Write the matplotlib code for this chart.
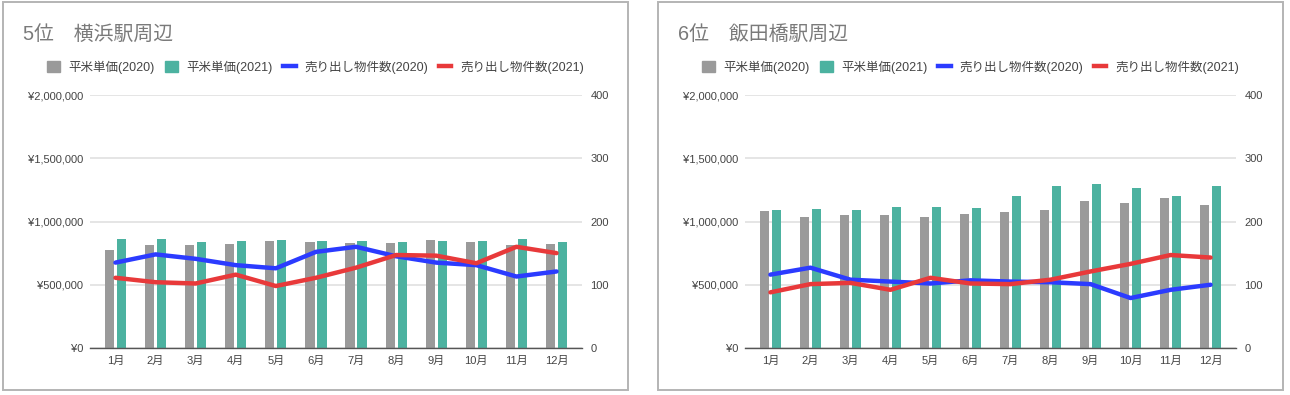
import matplotlib
matplotlib.use("Agg")
import matplotlib.pyplot as plt
from matplotlib.patches import Patch, Rectangle
from matplotlib.lines import Line2D
from matplotlib.ticker import FuncFormatter, FixedLocator
import numpy as np

plt.rcParams['font.family'] = ['Liberation Sans', 'Noto Sans CJK JP', 'DejaVu Sans']

months = ['1月', '2月', '3月', '4月', '5月', '6月', '7月', '8月', '9月', '10月', '11月', '12月']
series_names = ['平米単価(2020)', '平米単価(2021)', '売り出し物件数(2020)', '売り出し物件数(2021)']

title_yokohama = '5位　横浜駅周辺'
price2020_yokohama = [771000, 811000, 811000, 821000, 845000, 837000, 829000, 829000, 853000, 837000, 811000, 821000]
price2021_yokohama = [863000, 863000, 837000, 845000, 853000, 845000, 845000, 837000, 845000, 845000, 863000, 837000]
count2020_yokohama = [135, 148, 141, 131, 126, 152, 160, 145, 135, 131, 113, 121]
count2021_yokohama = [111, 104, 102, 116, 98, 111, 127, 147, 146, 134, 160, 150]

title_iidabashi = '6位　飯田橋駅周辺'
price2020_iidabashi = [1082000, 1039000, 1050000, 1050000, 1039000, 1063000, 1074000, 1089000, 1163000, 1150000, 1182000, 1132000]
price2021_iidabashi = [1092000, 1100000, 1092000, 1113000, 1113000, 1105000, 1205000, 1279000, 1297000, 1263000, 1205000, 1279000]
count2020_iidabashi = [116, 127, 108, 105, 102, 107, 105, 104, 101, 79, 92, 100]
count2021_iidabashi = [88, 101, 103, 92, 111, 102, 101, 108, 121, 133, 147, 143]

C_GRAY = '#9a9a9a'
C_TEAL = '#4cb2a0'
C_BLUE = '#2b3bff'
C_RED = '#e8393a'
TXT = '#444444'

W, H = 1290, 395
fig = plt.figure(figsize=(W / 100, H / 100), dpi=100)

def fx(px):
    return px / W

def fy(py):
    return 1 - py / H

def panel(px0, px1, ax_x0, ax_x1, title, p20, p21, c20, c21):
    # border
    fig.patches.append(Rectangle((fx(px0), fy(390)), fx(px1 - px0), (388) / H,
                                 transform=fig.transFigure, fill=False,
                                 edgecolor='#b4b4b4', linewidth=1.4))
    fig.text(fx(px0 + 20), fy(34), title, fontsize=14.3, color='#7a7a7a',
             va='center', ha='left')
    ax = fig.add_axes([fx(ax_x0), fy(348), fx(ax_x1 - ax_x0), (348 - 95) / H])
    x = np.arange(len(months))
    ax.bar(x - 0.15, p20, width=0.23, color=C_GRAY, zorder=2)
    ax.bar(x + 0.15, p21, width=0.23, color=C_TEAL, zorder=2)
    ax.set_ylim(0, 2000000)
    ax.set_xlim(-0.635, len(months) - 0.365)
    ax.yaxis.set_major_locator(FixedLocator([0, 500000, 1000000, 1500000, 2000000]))
    ax.yaxis.set_major_formatter(FuncFormatter(lambda v, p: '¥{:,}'.format(int(v))))
    ax.set_xticks(x)
    ax.set_xticklabels(months)
    ax.grid(axis='y', color='#e0e0e0', linewidth=1.2, zorder=0)
    ax.set_axisbelow(True)
    for s in ['top', 'right', 'left']:
        ax.spines[s].set_visible(False)
    ax.spines['bottom'].set_color('#555555')
    ax.spines['bottom'].set_linewidth(1.0)
    ax.spines['bottom'].set_zorder(3)
    ax.tick_params(axis='y', length=0, labelsize=8, colors=TXT, pad=5)
    ax.tick_params(axis='x', length=0, labelsize=8, colors=TXT, pad=6)

    ax2 = ax.twinx()
    ax2.plot(x, c20, color=C_BLUE, linewidth=3.2, solid_capstyle='round', solid_joinstyle='round', zorder=3)
    ax2.plot(x, c21, color=C_RED, linewidth=3.2, solid_capstyle='round', solid_joinstyle='round', zorder=3)
    ax2.set_ylim(0, 400)
    ax2.yaxis.set_major_locator(FixedLocator([0, 100, 200, 300, 400]))
    for s in ['top', 'right', 'left', 'bottom']:
        ax2.spines[s].set_visible(False)
    ax2.tick_params(length=0, labelsize=8, colors=TXT, pad=6)

    handles = [Patch(color=C_GRAY), Patch(color=C_TEAL),
               Line2D([], [], color=C_BLUE, linewidth=3.2),
               Line2D([], [], color=C_RED, linewidth=3.2)]
    fig.legend(handles, series_names, loc='center',
               bbox_to_anchor=(fx((px0 + px1) / 2), fy(67)),
               ncol=4, frameon=False, fontsize=9, handlelength=1.0,
               handleheight=1.0, columnspacing=0.85, handletextpad=0.7,
               labelcolor=TXT)

panel(3, 628, 90, 582, title_yokohama, price2020_yokohama, price2021_yokohama,
      count2020_yokohama, count2021_yokohama)
panel(658, 1283, 745, 1236, title_iidabashi, price2020_iidabashi, price2021_iidabashi,
      count2020_iidabashi, count2021_iidabashi)

fig.savefig('out.png', dpi=100)
